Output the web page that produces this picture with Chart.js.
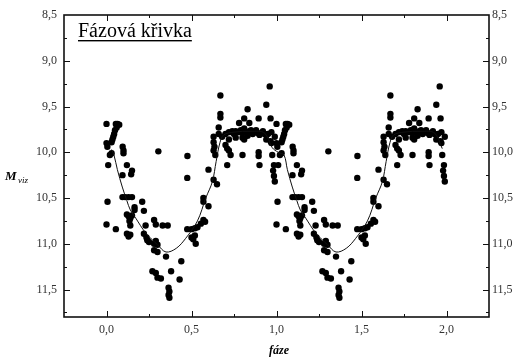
<!DOCTYPE html>
<html lang="cs">
<head>
<meta charset="utf-8">
<title>Fázová křivka</title>
<script src="https://cdn.jsdelivr.net/npm/chart.js@4.4.1/dist/chart.umd.min.js"></script>
<style>
  html, body { margin: 0; padding: 0; background: #fff; }
  #graf { display: block; }
</style>
</head>
<body>
<canvas id="graf" width="519" height="358"></canvas>
<script>
// --- DATA ---
const nadpis = 'Fázová křivka';
const popisX = 'fáze';
const popisY = ['M', 'viz'];

// rozsahy os
const osaX = { min: -0.25, max: 2.25, krok: 0.25 };
const osaY = { min: 8.5, max: 11.8, krok: 0.25 };

// pozorování, první perioda [fáze, mag]
const body1 = [
  [0.000, 9.69], [0.055, 9.69], [0.065, 9.69], [0.075, 9.70], [0.060, 9.73], [0.050, 9.76],
  [0.045, 9.80], [0.040, 9.83], [0.035, 9.86], [0.030, 9.89], [0.000, 9.90], [0.005, 9.94],
  [0.095, 9.94], [0.100, 9.98], [0.100, 10.01], [0.030, 10.01], [0.020, 10.03], [0.010, 10.14],
  [0.120, 10.14], [0.150, 10.20], [0.145, 10.24], [0.094, 10.25], [0.305, 9.99], [0.476, 10.04],
  [0.094, 10.49], [0.110, 10.49], [0.130, 10.49], [0.150, 10.49], [0.006, 10.54], [0.210, 10.54],
  [0.165, 10.60], [0.165, 10.63], [0.220, 10.64], [0.120, 10.68], [0.130, 10.70], [0.140, 10.72],
  [0.150, 10.69], [0.135, 10.75], [0.140, 10.80], [0.000, 10.79], [0.055, 10.84], [0.230, 10.80],
  [0.280, 10.74], [0.290, 10.79], [0.330, 10.80], [0.360, 10.80], [0.120, 10.89], [0.130, 10.92],
  [0.140, 10.90], [0.220, 10.89], [0.235, 10.93], [0.240, 10.96], [0.250, 10.98], [0.280, 11.00],
  [0.290, 10.97], [0.300, 11.01], [0.280, 11.07], [0.300, 11.09], [0.350, 11.14], [0.440, 11.19],
  [0.270, 11.30], [0.290, 11.32], [0.300, 11.37], [0.320, 11.38], [0.380, 11.30], [0.430, 11.39],
  [0.365, 11.48], [0.370, 11.52], [0.365, 11.56], [0.370, 11.59],
  [0.475, 10.84], [0.500, 10.84], [0.520, 10.83], [0.535, 10.82], [0.555, 10.78], [0.570, 10.74],
  [0.580, 10.76], [0.500, 10.93], [0.510, 10.95], [0.520, 10.91], [0.525, 11.00], [0.570, 10.50],
  [0.570, 10.54], [0.600, 10.59], [0.650, 10.35], [0.630, 10.30], [0.475, 10.28], [0.600, 10.19],
  [0.670, 9.38], [0.960, 9.28], [0.940, 9.48], [0.830, 9.53], [0.670, 9.58], [0.670, 9.62],
  [0.810, 9.63], [0.895, 9.63], [0.965, 9.63], [0.780, 9.68], [0.840, 9.68], [0.990, 9.83],
  [0.660, 9.73], [0.630, 9.83], [0.630, 9.89], [0.635, 9.94], [0.630, 9.98], [0.640, 10.03],
  [0.700, 9.92], [0.720, 9.98], [0.730, 10.03], [0.710, 9.96], [0.800, 10.03], [0.895, 10.00],
  [0.895, 10.04], [0.965, 9.88], [0.975, 10.03], [0.710, 10.14], [0.900, 10.14], [0.985, 10.14],
  [0.980, 10.20], [0.985, 10.26], [0.990, 10.32],
  [0.700, 9.80], [0.720, 9.78], [0.740, 9.77], [0.750, 9.80], [0.760, 9.77], [0.780, 9.78],
  [0.790, 9.76], [0.800, 9.79], [0.810, 9.74], [0.820, 9.78], [0.830, 9.82], [0.840, 9.77],
  [0.850, 9.76], [0.860, 9.80], [0.870, 9.78], [0.880, 9.76], [0.890, 9.79], [0.900, 9.81],
  [0.920, 9.77], [0.930, 9.80], [0.950, 9.80], [0.970, 9.78], [0.800, 9.84], [0.810, 9.86],
  [0.760, 9.84], [0.720, 9.86], [0.680, 9.83], [0.660, 9.80], [0.940, 9.86], [0.970, 9.90]
];

// pozorování, druhá perioda (stejná data posunutá o jednu fázi)
const body2 = [
  [1.000, 9.69], [1.055, 9.69], [1.065, 9.69], [1.075, 9.70], [1.060, 9.73], [1.050, 9.76],
  [1.045, 9.80], [1.040, 9.83], [1.035, 9.86], [1.030, 9.89], [1.000, 9.90], [1.005, 9.94],
  [1.095, 9.94], [1.100, 9.98], [1.100, 10.01], [1.030, 10.01], [1.020, 10.03], [1.010, 10.14],
  [1.120, 10.14], [1.150, 10.20], [1.145, 10.24], [1.094, 10.25], [1.305, 9.99], [1.476, 10.04],
  [1.094, 10.49], [1.110, 10.49], [1.130, 10.49], [1.150, 10.49], [1.006, 10.54], [1.210, 10.54],
  [1.165, 10.60], [1.165, 10.63], [1.220, 10.64], [1.120, 10.68], [1.130, 10.70], [1.140, 10.72],
  [1.150, 10.69], [1.135, 10.75], [1.140, 10.80], [1.000, 10.79], [1.055, 10.84], [1.230, 10.80],
  [1.280, 10.74], [1.290, 10.79], [1.330, 10.80], [1.360, 10.80], [1.120, 10.89], [1.130, 10.92],
  [1.140, 10.90], [1.220, 10.89], [1.235, 10.93], [1.240, 10.96], [1.250, 10.98], [1.280, 11.00],
  [1.290, 10.97], [1.300, 11.01], [1.280, 11.07], [1.300, 11.09], [1.350, 11.14], [1.440, 11.19],
  [1.270, 11.30], [1.290, 11.32], [1.300, 11.37], [1.320, 11.38], [1.380, 11.30], [1.430, 11.39],
  [1.365, 11.48], [1.370, 11.52], [1.365, 11.56], [1.370, 11.59],
  [1.475, 10.84], [1.500, 10.84], [1.520, 10.83], [1.535, 10.82], [1.555, 10.78], [1.570, 10.74],
  [1.580, 10.76], [1.500, 10.93], [1.510, 10.95], [1.520, 10.91], [1.525, 11.00], [1.570, 10.50],
  [1.570, 10.54], [1.600, 10.59], [1.650, 10.35], [1.630, 10.30], [1.475, 10.28], [1.600, 10.19],
  [1.670, 9.38], [1.960, 9.28], [1.940, 9.48], [1.830, 9.53], [1.670, 9.58], [1.670, 9.62],
  [1.810, 9.63], [1.895, 9.63], [1.965, 9.63], [1.780, 9.68], [1.840, 9.68], [1.990, 9.83],
  [1.660, 9.73], [1.630, 9.83], [1.630, 9.89], [1.635, 9.94], [1.630, 9.98], [1.640, 10.03],
  [1.700, 9.92], [1.720, 9.98], [1.730, 10.03], [1.710, 9.96], [1.800, 10.03], [1.895, 10.00],
  [1.895, 10.04], [1.965, 9.88], [1.975, 10.03], [1.710, 10.14], [1.900, 10.14], [1.985, 10.14],
  [1.980, 10.20], [1.985, 10.26], [1.990, 10.32],
  [1.700, 9.80], [1.720, 9.78], [1.740, 9.77], [1.750, 9.80], [1.760, 9.77], [1.780, 9.78],
  [1.790, 9.76], [1.800, 9.79], [1.810, 9.74], [1.820, 9.78], [1.830, 9.82], [1.840, 9.77],
  [1.850, 9.76], [1.860, 9.80], [1.870, 9.78], [1.880, 9.76], [1.890, 9.79], [1.900, 9.81],
  [1.920, 9.77], [1.930, 9.80], [1.950, 9.80], [1.970, 9.78], [1.800, 9.84], [1.810, 9.86],
  [1.760, 9.84], [1.720, 9.86], [1.680, 9.83], [1.660, 9.80], [1.940, 9.86], [1.970, 9.90]
];

// proložená křivka
const krivka = [
  [0.030, 9.97], [0.044, 10.03], [0.064, 10.19], [0.093, 10.38], [0.120, 10.53], [0.140, 10.63],
  [0.172, 10.72], [0.230, 10.88], [0.300, 11.01], [0.350, 11.09], [0.410, 11.05], [0.466, 10.94],
  [0.535, 10.75], [0.584, 10.50], [0.623, 10.32], [0.645, 10.10], [0.668, 9.89], [0.690, 9.81],
  [0.750, 9.78], [0.850, 9.77], [0.930, 9.79], [0.975, 9.95],
  [1.010, 10.00], [1.044, 10.03], [1.064, 10.19], [1.093, 10.38], [1.120, 10.53], [1.140, 10.63],
  [1.172, 10.72], [1.230, 10.88], [1.300, 11.01], [1.350, 11.09], [1.410, 11.05], [1.466, 10.94],
  [1.535, 10.75], [1.584, 10.50], [1.623, 10.32], [1.645, 10.10], [1.668, 9.89], [1.690, 9.81],
  [1.750, 9.78], [1.850, 9.77], [1.930, 9.79], [1.975, 9.96]
];

// --- POMOCNÉ ---
const PISMO = '"Liberation Serif", "DejaVu Serif", serif';
const naBody = (pole) => pole.map(([x, y]) => ({ x, y }));

function popisek(value) {
  const v = Math.round(value * 100) / 100;
  if (Math.abs(v * 2 - Math.round(v * 2)) > 1e-6) return '';
  return v.toFixed(1).replace('.', ',');
}

// rámeček, dovnitř mířící značky a texty
const ramecek = {
  id: 'ramecek',
  afterDraw(chart) {
    const { ctx, chartArea: a, scales } = chart;
    ctx.save();
    ctx.strokeStyle = '#111';
    ctx.lineWidth = 1.6;
    ctx.strokeRect(a.left, a.top, a.right - a.left, a.bottom - a.top);

    ctx.lineWidth = 1;
    ctx.beginPath();
    scales.x.ticks.forEach(t => {
      const px = Math.round(scales.x.getPixelForValue(t.value)) + 0.5;
      if (px <= a.left + 1 || px >= a.right - 1) return;
      const d = t.label ? 6 : 3;
      ctx.moveTo(px, a.bottom); ctx.lineTo(px, a.bottom - d);
      ctx.moveTo(px, a.top); ctx.lineTo(px, a.top + d);
    });
    scales.y.ticks.forEach(t => {
      const py = Math.round(scales.y.getPixelForValue(t.value)) + 0.5;
      if (py <= a.top + 1 || py >= a.bottom - 1) return;
      const d = t.label ? 6 : 3;
      ctx.moveTo(a.left, py); ctx.lineTo(a.left + d, py);
      ctx.moveTo(a.right, py); ctx.lineTo(a.right - d, py);
    });
    ctx.stroke();

    // nadpis s podtržením
    ctx.fillStyle = '#000';
    ctx.font = '20px ' + PISMO;
    ctx.textBaseline = 'alphabetic';
    ctx.textAlign = 'left';
    ctx.fillText(nadpis, 78, 37);
    const w = ctx.measureText(nadpis).width;
    ctx.fillRect(78, 40, w, 1.4);

    // popisek osy Y
    ctx.font = 'italic bold 13px ' + PISMO;
    ctx.fillText(popisY[0], 5, 180);
    ctx.font = 'italic 9px ' + PISMO;
    ctx.fillText(popisY[1], 18, 183);

    // popisek osy X
    ctx.font = 'italic bold 12px ' + PISMO;
    ctx.textAlign = 'center';
    ctx.fillText(popisX, 279, 354);
    ctx.restore();
  }
};

const tickStyl = { family: PISMO, size: 12 };

new Chart(document.getElementById('graf'), {
  type: 'scatter',
  data: {
    datasets: [
      {
        label: 'křivka',
        data: naBody(krivka),
        showLine: true,
        borderColor: '#111',
        borderWidth: 1,
        pointRadius: 0,
        tension: 0.35,
        order: 0
      },
      {
        label: 'fáze 0–1',
        data: naBody(body1),
        backgroundColor: '#000',
        borderWidth: 0,
        pointRadius: 3.2,
        order: 1
      },
      {
        label: 'fáze 1–2',
        data: naBody(body2),
        backgroundColor: '#000',
        borderWidth: 0,
        pointRadius: 3.2,
        order: 1
      }
    ]
  },
  options: {
    responsive: false,
    animation: false,
    layout: { padding: { top: 15, left: 0, right: 0, bottom: 0 } },
    plugins: { legend: { display: false }, tooltip: { enabled: false } },
    scales: {
      x: {
        type: 'linear',
        min: osaX.min,
        max: osaX.max,
        grid: { display: false, drawTicks: false },
        border: { display: false },
        ticks: {
          stepSize: osaX.krok,
          includeBounds: false,
          autoSkip: false,
          maxRotation: 0,
          padding: 6,
          color: '#333',
          font: tickStyl,
          callback: popisek
        },
        afterFit(s) { s.height = 41; }
      },
      y: {
        type: 'linear',
        position: 'left',
        reverse: true,
        min: osaY.min,
        max: osaY.max,
        grid: { display: false, drawTicks: false },
        border: { display: false },
        ticks: {
          stepSize: osaY.krok,
          includeBounds: false,
          autoSkip: false,
          padding: 7,
          color: '#333',
          font: tickStyl,
          callback: popisek
        },
        afterFit(s) { s.width = 64; }
      },
      y2: {
        type: 'linear',
        position: 'right',
        reverse: true,
        min: osaY.min,
        max: osaY.max,
        grid: { display: false, drawTicks: false },
        border: { display: false },
        ticks: {
          stepSize: osaY.krok,
          includeBounds: false,
          autoSkip: false,
          padding: 3,
          color: '#333',
          font: tickStyl,
          callback: popisek
        },
        afterFit(s) { s.width = 30; }
      }
    }
  },
  plugins: [ramecek]
});
</script>
</body>
</html>
